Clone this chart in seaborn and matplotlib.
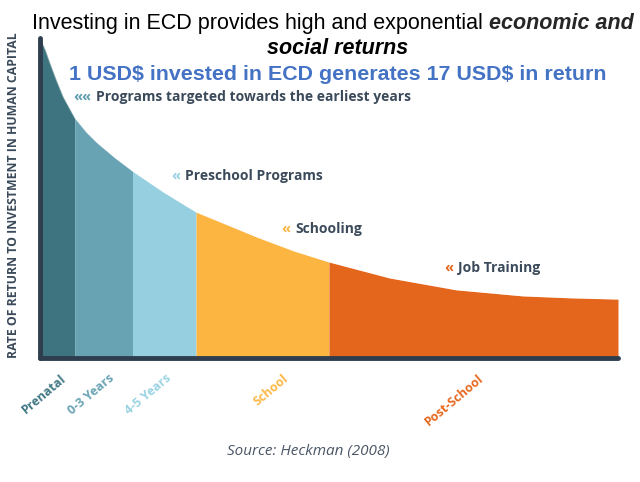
import numpy as np
import pandas as pd
import matplotlib
matplotlib.use('Agg')
import matplotlib.pyplot as plt
import seaborn as sns

# 曲线数据 (横轴: 生命阶段位置 0-100, 纵轴: 回报率 相对值)
stage_x = [0, 0.9, 1.7, 2.8, 4, 6, 8, 9.9, 13, 16, 21.3, 27,
           32.4, 37.5, 44, 50, 60.5, 72, 83.5, 91.7, 100]
return_rate = [100, 96.3, 92.2, 86.9, 81.6, 75.0, 70.6, 67.2, 62.5, 58.4, 51.9, 45.6,
               41.6, 37.8, 33.4, 30.0, 25.0, 21.3, 19.4, 18.8, 18.4]

# 阶段
stages = ['Prenatal', '0-3 Years', '4-5 Years', 'School', 'Post-School']
stage_edges = [0, 6, 16, 27, 50, 100]
stage_colors = ['#3d7480', '#68a3b3', '#96cfe0', '#fbb540', '#e4661c']
label_colors = ['#3f7784', '#6aa4b4', '#9ad3e3', '#fdb847', '#e8691f']

# 注释
programs = ['Programs targeted towards the earliest years', 'Preschool Programs',
            'Schooling', 'Job Training']
program_marks = ['««', '«', '«', '«']
program_mark_colors = ['#5d9dad', '#96cfe0', '#fbb540', '#e4661c']

DARK = '#2e3e4e'
TEXT = '#3b4a5a'

sns.set_theme(style='white')
plt.rcParams['font.family'] = ['Open Sans', 'DejaVu Sans']

W, H = 640, 482
fig = plt.figure(figsize=(6.4, 4.82), dpi=100)
ax = fig.add_axes([40 / W, 1 - 358 / H, 578 / W, 320 / H])


def px(x, y):
    return x / W, 1 - y / H


df = pd.DataFrame({'stage_x': stage_x, 'return_rate': return_rate})
x = np.array(stage_x)
y = np.array(return_rate)
for i, name in enumerate(stages):
    lo, hi = stage_edges[i], stage_edges[i + 1]
    m = (x >= lo) & (x <= hi)
    ax.fill_between(x[m], 0, y[m], color=stage_colors[i], lw=0)

sns.lineplot(data=df, x='stage_x', y='return_rate', ax=ax, color='#ffffff', lw=0.6, alpha=0.4)

ax.set_xlim(0, 100)
ax.set_ylim(0, 100)
ax.set_xlabel('')
ax.set_ylabel('')
ax.set_yticks([])

# 刻度标签位置
tick_pos = [3.5, 11.8, 21.6, 42, 75.8]
ax.set_xticks(tick_pos)
ax.set_xticklabels(stages, rotation=40, ha='right', rotation_mode='anchor',
                   fontsize=9, fontweight='bold')
for lab, c in zip(ax.get_xticklabels(), label_colors):
    lab.set_color(c)
ax.tick_params(axis='x', length=0, pad=10)

for s in ['top', 'right']:
    ax.spines[s].set_visible(False)
for s in ['left', 'bottom']:
    ax.spines[s].set_color(DARK)
    ax.spines[s].set_linewidth(3.5)
    ax.spines[s].set_capstyle('round')

# 纵轴标题
fig.text(*px(14, 195), 'RATE OF RETURN TO INVESTMENT IN HUMAN CAPITAL', rotation=90,
         ha='center', va='center', fontsize=8.8, fontweight='bold', color=TEXT)

# 标题
t1 = fig.text(*px(32, 29), 'Investing in ECD provides high and exponential ',
              ha='left', va='baseline', fontsize=15.5, family='Liberation Sans', color='black')
ax.annotate('economic and', xy=(1, 0), xycoords=t1, ha='left', va='bottom',
            fontsize=15.5, family='Liberation Sans', fontweight='bold', style='italic')
fig.text(*px(338, 48), 'social returns', ha='center', va='center', fontsize=15.5,
         family='Liberation Sans', fontweight='bold', style='italic', color='black')
fig.text(*px(338, 75), '1 USD$ invested in ECD generates 17 USD$ in return', ha='center',
         va='center', fontsize=15.4, family='Liberation Sans', fontweight='bold',
         color='#4472c4', parse_math=False)

# 注释文字
note_xy = [(96, 97), (185, 176), (295, 229), (458, 268)]
for (nx, ny), txt, mk, mc in zip(note_xy, programs, program_marks, program_mark_colors):
    fig.text(*px(nx - 5, ny), mk, ha='right', va='center', fontsize=10.5,
             fontweight='bold', color=mc)
    fig.text(*px(nx, ny), txt, ha='left', va='center', fontsize=10,
             fontweight='bold', color=TEXT)

fig.text(*px(308, 452), 'Source: Heckman (2008)', ha='center', va='center', fontsize=11,
         style='italic', color='#4a5666')

plt.savefig('out.png', dpi=100)
plt.close()
